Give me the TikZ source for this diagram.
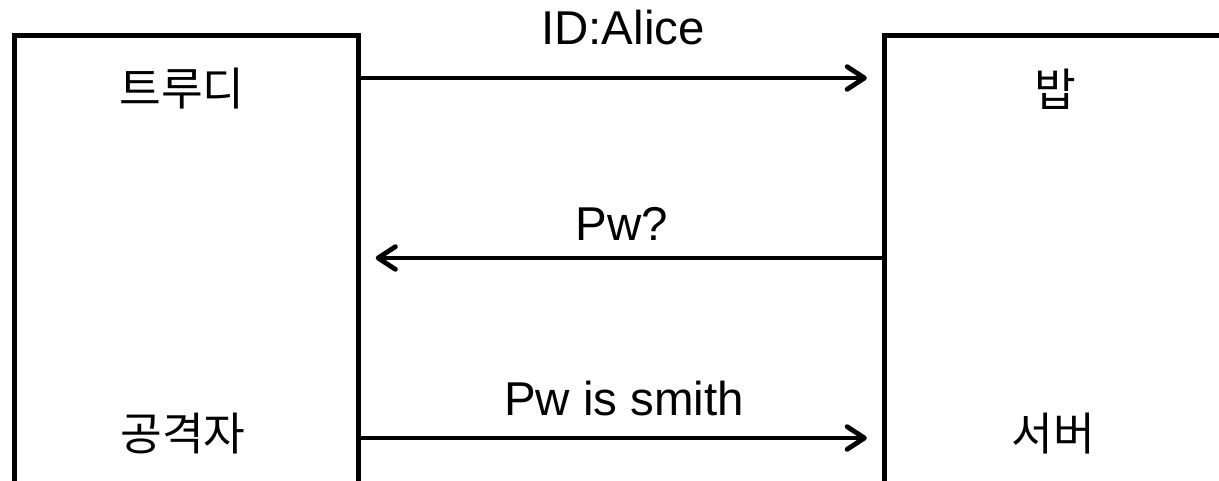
\documentclass[tikz,border=0pt]{standalone}
\usepackage{fontspec}
\setmainfont{Liberation Sans}
\newfontfamily\kofont{Noto Sans CJK KR}
\usetikzlibrary{arrows.meta}

\tikzset{
  party/.style={draw, line width=3.75pt, inner sep=0pt, anchor=north west, minimum height=450pt},
  msg/.style={line width=3.6pt, shorten >=11pt, -{Straight Barb[length=13pt,width=17pt,line cap=round,line join=round]}},
  lbl/.style={font=\fontsize{35.6}{40}\selectfont, inner sep=0pt, anchor=base},
  kor/.style={font=\kofont\fontsize{34}{40}\selectfont, inner sep=0pt}
}

\begin{document}
\begin{tikzpicture}[x=0.75pt,y=0.75pt,yscale=-1,xscale=1]
\useasboundingbox (0,0) rectangle (1219,481);
\clip (0,0) rectangle (1219,481);

% Boxes
\node[party, minimum width=258pt] (trudyBox) at (12,33.5) {};
\node[party, minimum width=300pt] (bobBox) at (881.5,33.5) {};

% Rows of the messages
\coordinate (row1) at (0,78);
\coordinate (row2) at (0,258);
\coordinate (row3) at (0,438);

%Straight Lines
\draw[msg] (trudyBox.east |- row1) -- (bobBox.west |- row1);
\draw[msg] (bobBox.west |- row2) -- (trudyBox.east |- row2);
\draw[msg] (trudyBox.east |- row3) -- (bobBox.west |- row3);

% Text Node
\node[lbl] (idMsg) at (623,45) {ID:Alice};
% Text Node
\node[lbl] (pwAsk) at (622,240) {Pw?};
% Text Node
\node[lbl] (pwSend) at (624,415) {Pw is smith};

% Text Node
\node[kor] (trudy) at (182,89) {트루디};
% Text Node
\node[kor] (attacker) at (183,434) {공격자};
% Text Node
\node[kor] (bob) at (1055,89) {밥};
% Text Node
\node[kor] (server) at (1053,434) {서버};

\end{tikzpicture}
\end{document}
